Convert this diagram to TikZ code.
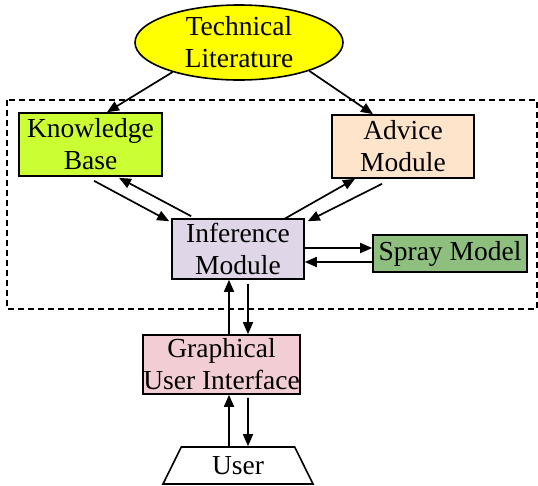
\documentclass[tikz,border=0pt]{standalone}
\usepackage{fontspec}
\setmainfont{Liberation Serif}
\usetikzlibrary{shapes.geometric,arrows.meta,calc}

\definecolor{litfill}{HTML}{FFFF00}
\definecolor{kbfill}{HTML}{CCFF33}
\definecolor{advfill}{HTML}{FFE4CC}
\definecolor{inffill}{HTML}{DFD7E8}
\definecolor{sprayfill}{HTML}{8FBF7F}
\definecolor{guifill}{HTML}{F2CDD3}

\tikzset{
  every node/.style={font=\fontsize{27.5}{32}\selectfont, inner sep=0pt, align=center},
  block/.style={draw=black, line width=1.6pt, rectangle},
  link/.style={line width=1.7pt, -{Triangle[length=12pt,width=10pt]}},
  frame/.style={line width=1.3pt, dash pattern=on 6pt off 4pt},
}

\begin{document}
\begin{tikzpicture}[x=1pt,y=-1pt]
  \useasboundingbox (0,0) rectangle (538,485);

  % enclosing expert-system frame
  \draw[frame] (7,100) rectangle (537,309);

  % modules
  \node[ellipse, draw, line width=1.6pt, fill=litfill, minimum width=208pt, minimum height=75pt] (lit) at (239,42.5) {Technical\\Literature};
  \node[block, fill=kbfill, minimum width=143pt, minimum height=63pt] (kb) at (90.5,144.5) {Knowledge\\Base};
  \node[block, fill=advfill, minimum width=142pt, minimum height=63pt] (adv) at (403,146.5) {Advice\\Module};
  \node[block, fill=inffill, minimum width=132pt, minimum height=60pt] (inf) at (238,249) {Inference\\Module};
  \node[block, fill=sprayfill, minimum width=154pt, minimum height=37pt] (spray) at (450,253.5) {Spray Model};
  \node[block, fill=guifill, minimum width=153pt, minimum height=59pt] (gui) at (221.5,364.5) {Graphical\\User Interface};
  \node[trapezium, draw, line width=1.6pt, trapezium left angle=45, trapezium right angle=45,
        trapezium stretches body, minimum width=150pt, minimum height=37pt] (user) at (238,465.5) {User};

  % connectors
  \draw[link] (lit.204) -- ($(kb.north)+(16.5,0)$);
  \draw[link] (lit.338) -- ($(adv.north)+(-30,0)$);

  \draw[link] ($(kb.south)+(3.5,4)$) -- ($(inf.north west)+(-2,3)$);
  \draw[link] ($(inf.north west)+(20,-2)$) -- ($(kb.south)+(28.5,1)$);

  \draw[link] ($(inf.north east)+(-21,1)$) -- ($(adv.south)+(-48,0)$);
  \draw[link] ($(adv.south)+(-21,5)$) -- ($(inf.north east)+(3,3)$);

  \draw[link] ($(inf.east)+(0,-1)$) -- ($(spray.west)+(0,-5.5)$);
  \draw[link] ($(spray.west)+(0,8.5)$) -- ($(inf.east)+(0,13)$);

  \draw[link] ($(gui.north)+(7.5,0)$) -- ($(inf.south)+(-9,0)$);
  \draw[link] ($(inf.south)+(10,4)$) -- ($(gui.north)+(26.5,0)$);

  \draw[link] ($(user.north)+(-9,0)$) -- ($(gui.south)+(7.5,0)$);
  \draw[link] ($(gui.south)+(26.5,3)$) -- ($(user.north)+(10,0)$);
\end{tikzpicture}
\end{document}
